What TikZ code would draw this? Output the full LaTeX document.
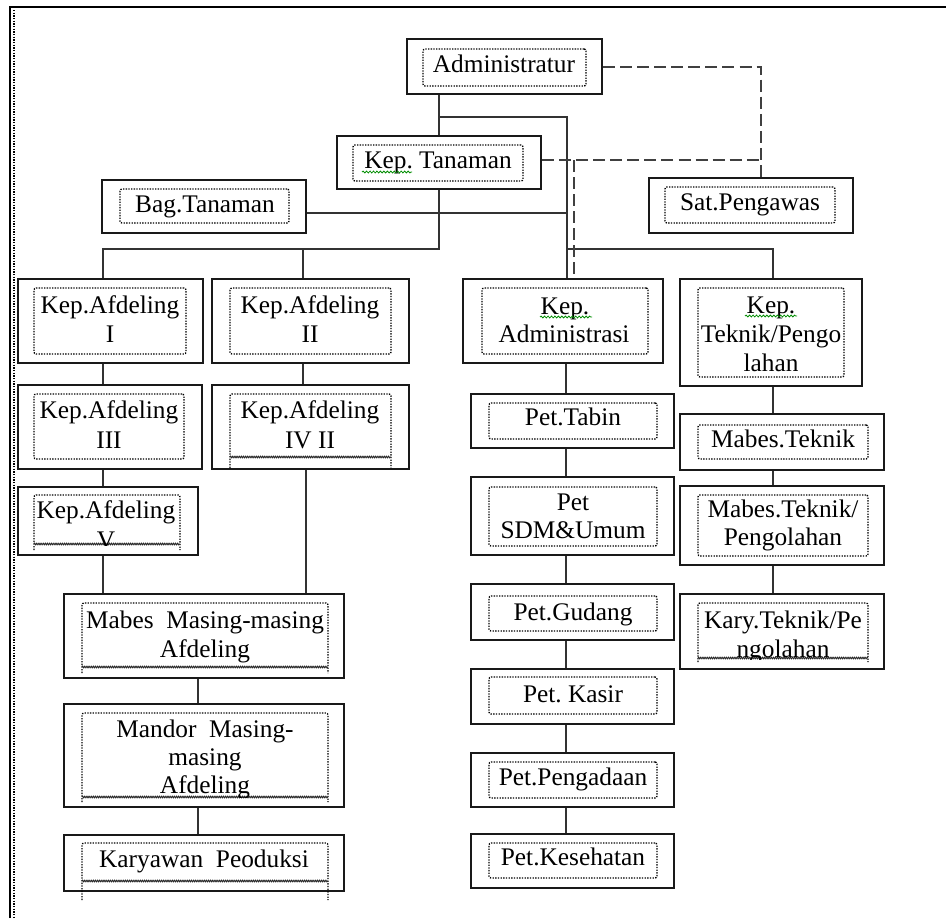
\documentclass[tikz,border=0pt]{standalone}
\usepackage{fontspec}
\setmainfont{Liberation Serif}
\usetikzlibrary{fit,calc,decorations.pathmorphing}
\frenchspacing
\newcommand\mkbox[5]{\node[box, fit={(#2,#3) (#4,#5)}] (#1) {};}
\newcommand\mkdot[5]{\node[dotbox, fit={(#2,#3) (#4,#5)}] (#1) {};}
\newcommand\mkwave[6]{%
  \coordinate (#1-a) at (#2,#5); \coordinate (#1-b) at (#2,#3);
  \coordinate (#1-c) at (#4,#3); \coordinate (#1-d) at (#4,#5);
  \draw[dotline, rounded corners=1.5pt] (#1-a) -- (#1-b) -- (#1-c) -- (#1-d);
  \coordinate (#1-e) at (#2,#6); \coordinate (#1-f) at (#4,#6);
  \draw[wave] (#1-e) -- (#1-f);}
\begin{document}
\begin{tikzpicture}[x=0.75pt,y=-0.75pt,
  box/.style={draw=black!90, line width=1.5pt, inner sep=0pt},
  dotbox/.style={draw=black, line width=1pt, dash pattern=on 1pt off 1pt, inner sep=0pt, rounded corners=1.5pt},
  dotline/.style={draw=black, line width=1pt, dash pattern=on 1pt off 1pt},
  wave/.style={draw=black!85, line width=0.7pt, decorate, decoration={snake, amplitude=0.6pt, segment length=1.6pt}},
  spell/.style={draw=green!55!black, line width=0.6pt, decorate, decoration={snake, amplitude=0.7pt, segment length=2.6pt}},
  lbl/.style={anchor=base, inner sep=0pt, font=\fontsize{19}{22}\selectfont},
  conn/.style={draw=black!80, line width=1.3pt},
  dconn/.style={draw=black!75, line width=1.4pt, dash pattern=on 9pt off 3.8pt},
  frame/.style={draw=black, line width=1.5pt}
]
\useasboundingbox (0,0) rectangle (946,918);

% page frame
\coordinate (fTL) at (10,7); \coordinate (fBL) at (10,918); \coordinate (fTR) at (946,7);
\draw[frame] (fBL) -- (fTL) -- (fTR);
\coordinate (gT) at (14,10); \coordinate (gB) at (14,918);
\draw[dotline] (gT) -- (gB);

% outer boxes
\mkbox{admin}{407}{39}{602}{94}
\mkbox{ktan}{337}{136}{541}{189}
\mkbox{bag}{102}{180}{306}{233}
\mkbox{sat}{649}{178}{853}{233}
\mkbox{afd1}{18}{279}{203}{363}
\mkbox{afd2}{212}{279}{409}{363}
\mkbox{afd3}{18}{385}{202}{469}
\mkbox{afd4}{212}{385}{409}{469}
\mkbox{afd5}{18}{487}{198}{555}
\mkbox{kadm}{463}{279}{663}{363}
\mkbox{ktek}{680}{279}{862}{386}
\mkbox{tabin}{471}{394}{674}{448}
\mkbox{sdm}{471}{477}{674}{555}
\mkbox{mtek}{680}{414}{884}{470}
\mkbox{mtp}{680}{486}{884}{565}
\mkbox{gud}{471}{584}{674}{640}
\mkbox{kas}{471}{669}{674}{724}
\mkbox{peng}{471}{753}{674}{807}
\mkbox{kes}{471}{834}{674}{888}
\mkbox{kary}{680}{594}{884}{669}
\mkbox{mab}{64}{594}{344}{678}
\mkbox{mand}{64}{704}{344}{807}
\mkbox{kar}{64}{835}{344}{891}

% inner dotted boxes
\mkdot{admin-i}{423}{49}{586}{86}
\mkdot{ktan-i}{353}{145}{523}{181}
\mkdot{bag-i}{120}{189}{289}{223}
\mkdot{sat-i}{665}{187}{835}{223}
\mkdot{afd1-i}{34}{288}{186}{354}
\mkdot{afd2-i}{230}{288}{391}{354}
\mkdot{afd3-i}{34}{394}{184}{459}
\mkwave{afd4-i}{230}{394}{391}{468}{457}
\mkwave{afd5-i}{34}{495}{180}{550}{544}
\mkdot{kadm-i}{482}{288}{648}{354}
\mkdot{ktek-i}{698}{288}{844}{377}
\mkdot{tabin-i}{489}{403}{657}{439}
\mkdot{sdm-i}{489}{487}{657}{546}
\mkdot{mtek-i}{698}{425}{868}{459}
\mkdot{mtp-i}{698}{495}{868}{556}
\mkdot{gud-i}{489}{596}{657}{631}
\mkdot{kas-i}{489}{677}{657}{714}
\mkdot{peng-i}{489}{762}{657}{798}
\mkdot{kes-i}{489}{843}{657}{878}
\mkwave{kary-i}{698}{603}{868}{662}{658}
\mkwave{mab-i}{82}{603}{328}{673}{667}
\mkwave{mand-i}{82}{713}{328}{802}{797}
\mkwave{kar-i}{82}{843}{328}{900}{881}

% texts
\node[lbl] (admin-t) at (504,72) {Administratur};
\node[lbl] (ktan-t) at (438,168) {Kep. Tanaman};
\node[lbl] (bag-t) at (205,212) {Bag.Tanaman};
\node[lbl] (sat-t) at (750,210) {Sat.Pengawas};
\node[lbl] (afd1-t1) at (110,313) {Kep.Afdeling};
\node[lbl] (afd1-t2) at (110,342) {I};
\node[lbl] (afd2-t1) at (310,313) {Kep.Afdeling};
\node[lbl] (afd2-t2) at (310,342) {II};
\node[lbl] (afd3-t1) at (109,418) {Kep.Afdeling};
\node[lbl] (afd3-t2) at (109,448) {III};
\node[lbl] (afd4-t1) at (310,418) {Kep.Afdeling};
\node[lbl] (afd4-t2) at (310,448) {IV II};
\begin{scope}
  \clip (34,495) rectangle (180,545);
  \node[lbl] (afd5-t1) at (106,518) {Kep.Afdeling};
  \node[lbl] (afd5-t2) at (106,548) {V};
\end{scope}
\node[lbl] (kadm-t1) at (565,314) {Kep.};
\node[lbl] (kadm-t2) at (564,342) {Administrasi};
\node[lbl] (ktek-t1) at (771,313) {Kep.};
\node[lbl] (ktek-t2) at (771,342) {Teknik/Pengo};
\node[lbl] (ktek-t3) at (771,371) {lahan};
\node[lbl] (tabin-t) at (573,425) {Pet.Tabin};
\node[lbl] (sdm-t1) at (573,510) {Pet};
\node[lbl] (sdm-t2) at (573,538) {SDM\&Umum};
\node[lbl] (mtek-t) at (783,447) {Mabes.Teknik};
\node[lbl] (mtp-t1) at (783,517) {Mabes.Teknik/};
\node[lbl] (mtp-t2) at (783,545) {Pengolahan};
\node[lbl] (gud-t) at (573,620) {Pet.Gudang};
\node[lbl] (kas-t) at (573,702) {Pet. Kasir};
\node[lbl] (peng-t) at (573,785) {Pet.Pengadaan};
\node[lbl] (kes-t) at (573,865) {Pet.Kesehatan};
\begin{scope}
  \clip (698,603) rectangle (868,659);
  \node[lbl] (kary-t1) at (783,628) {Kary.Teknik/Pe};
  \node[lbl] (kary-t2) at (783,657) {ngolahan};
\end{scope}
\node[lbl] (mab-t1) at (205,628) {Mabes\ \ Masing-masing};
\node[lbl] (mab-t2) at (205,657) {Afdeling};
\begin{scope}
  \clip (82,713) rectangle (328,797);
  \node[lbl] (mand-t1) at (205,737) {Mandor\ \ Masing-};
  \node[lbl] (mand-t2) at (205,765) {masing};
  \node[lbl] (mand-t3) at (205,793) {Afdeling};
\end{scope}
\node[lbl] (kar-t) at (204,867) {Karyawan\ \ Peoduksi};

% spelling squiggles
\coordinate (s1a) at (362,172); \coordinate (s1b) at (412,172);
\coordinate (s2a) at (540,317); \coordinate (s2b) at (592,317);
\coordinate (s3a) at (745,316); \coordinate (s3b) at (797,316);
\draw[spell] (s1a) -- (s1b);
\draw[spell] (s2a) -- (s2b);
\draw[spell] (s3a) -- (s3b);

% solid connectors
\coordinate (jB) at (567,117);
\coordinate (jC) at (567,213);
\coordinate (jL) at (103,249);
\coordinate (jLm) at (303,249);
\coordinate (jR) at (773,249);
\coordinate (cIV) at (306,594);
\coordinate (cM) at (198,700);
\coordinate (cP) at (566,600);
\draw[conn] (admin.south -| ktan.north) -- (ktan.north);
\draw[conn] (ktan.north |- jB) -- (jB) -- (jB |- kadm.north);
\draw[conn] (jC -| bag.east) -- (jC);
\draw[conn] (ktan.south) -- (ktan.south |- jL) -- (jL) -- (jL |- afd1.north);
\draw[conn] (jLm) -- (jLm |- afd2.north);
\draw[conn] (jB |- jR) -- (jR) -- (jR |- ktek.north);
\draw[conn] (jL |- afd1.south) -- (jL |- afd3.north);
\draw[conn] (jL |- afd3.south) -- (jL |- afd5.north);
\draw[conn] (jL |- afd5.south) -- (jL |- mab.north);
\draw[conn] (jLm |- afd2.south) -- (jLm |- afd4.north);
\draw[conn] (cIV |- afd4.south) -- (cIV |- mab.north);
\draw[conn] (cM |- mab.south) -- (cM |- mand.north);
\draw[conn] (cM |- mand.south) -- (cM |- kar.north);
\draw[conn] (cP |- kadm.south) -- (cP |- tabin.north);
\draw[conn] (cP |- tabin.south) -- (cP |- sdm.north);
\draw[conn] (cP |- sdm.south) -- (cP |- gud.north);
\draw[conn] (cP |- gud.south) -- (cP |- kas.north);
\draw[conn] (cP |- kas.south) -- (cP |- peng.north);
\draw[conn] (cP |- peng.south) -- (cP |- kes.north);
\draw[conn] (jR |- ktek.south) -- (jR |- mtek.north);
\draw[conn] (jR |- mtek.south) -- (jR |- mtp.north);
\draw[conn] (jR |- mtp.south) -- (jR |- kary.north);

% dashed connectors
\coordinate (dA) at (761,67);
\coordinate (dB) at (761,160);
\coordinate (dC) at (574,160);
\draw[dconn] (admin.east |- dA) -- (dA) -- (dA |- sat.north);
\draw[dconn] (dB -| ktan.east) -- (dB);
\draw[dconn] (dC) -- (dC |- kadm.north);
\end{tikzpicture}
\end{document}
